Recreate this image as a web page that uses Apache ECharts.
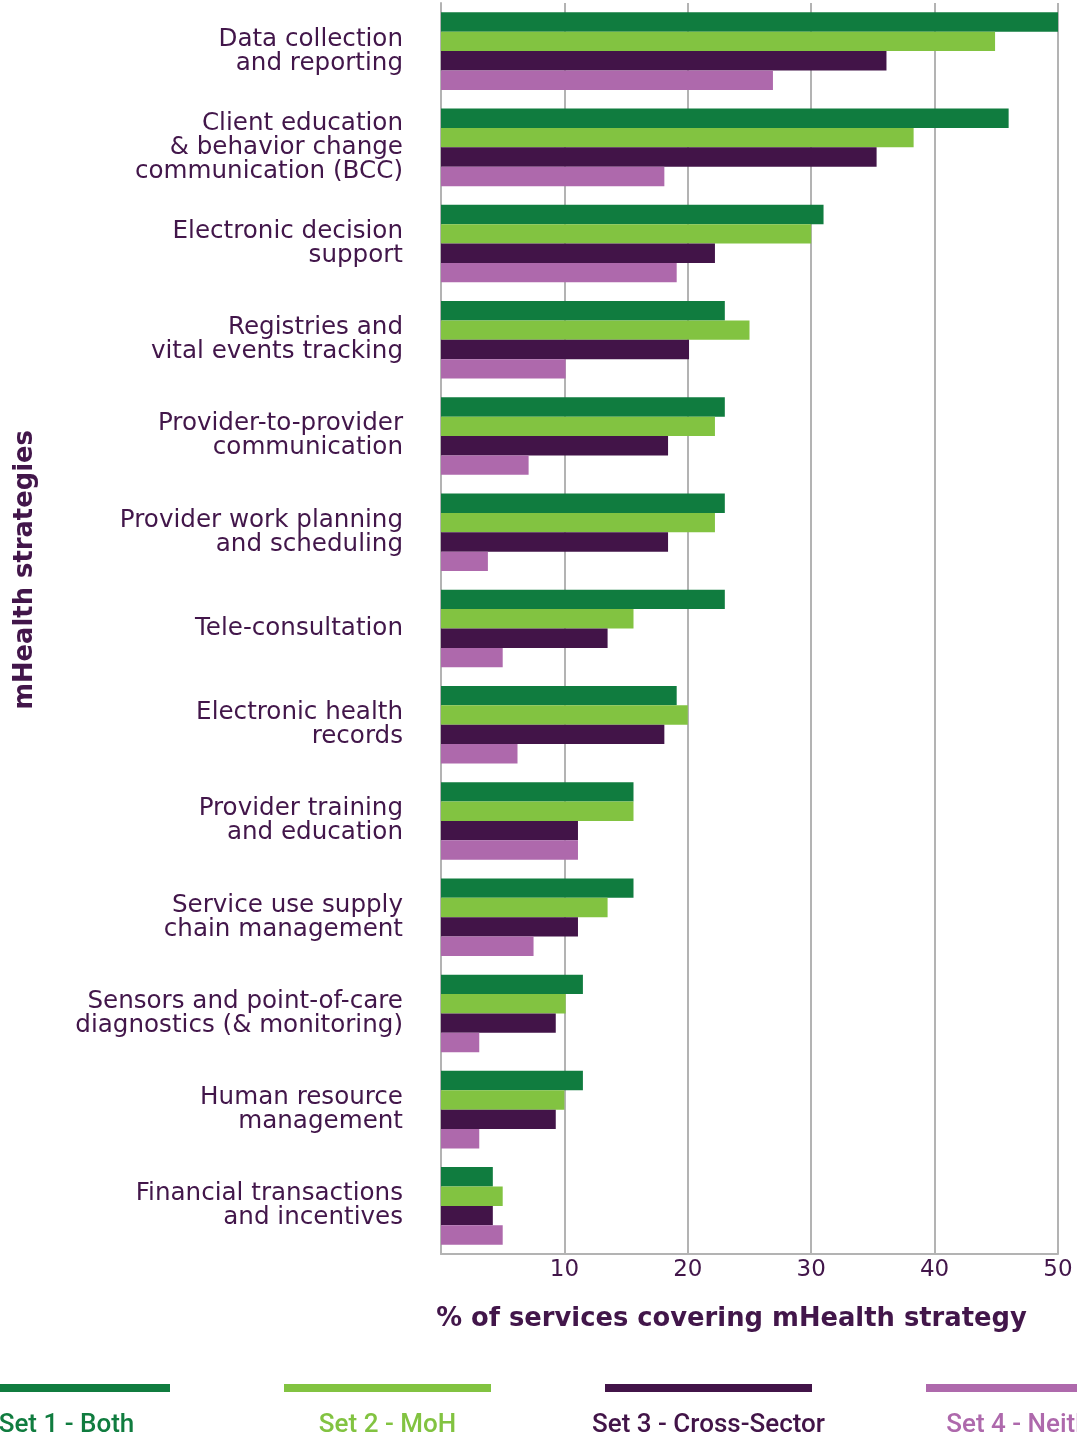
<!DOCTYPE html>
<html><head><meta charset="utf-8">
<script src="https://cdn.jsdelivr.net/npm/echarts@6/dist/echarts.min.js"></script>
<style>html,body{margin:0;padding:0;background:#fff;overflow:hidden}#c{width:1077px;height:1436px}</style>
</head><body><div id="c"></div>
<script>
const categories = [
  'Data collection\nand reporting',
  'Client education\n& behavior change\ncommunication (BCC)',
  'Electronic decision\nsupport',
  'Registries and\nvital events tracking',
  'Provider-to-provider\ncommunication',
  'Provider work planning\nand scheduling',
  'Tele-consultation',
  'Electronic health\nrecords',
  'Provider training\nand education',
  'Service use supply\nchain management',
  'Sensors and point-of-care\ndiagnostics (& monitoring)',
  'Human resource\nmanagement',
  'Financial transactions\nand incentives'
];
const seriesNames = ['Set 1 - Both', 'Set 2 - MoH', 'Set 3 - Cross-Sector', 'Set 4 - Neither'];
const set1 = [50, 46, 31, 23, 23, 23, 23, 19.1, 15.6, 15.6, 11.5, 11.5, 4.2];
const set2 = [44.9, 38.3, 30, 25, 22.2, 22.2, 15.6, 20, 15.6, 13.5, 10.1, 10, 5];
const set3 = [36.1, 35.3, 22.2, 20.1, 18.4, 18.4, 13.5, 18.1, 11.1, 11.1, 9.3, 9.3, 4.2];
const set4 = [26.9, 18.1, 19.1, 10.1, 7.1, 3.8, 5, 6.2, 11.1, 7.5, 3.1, 3.1, 5];
const xTickLabels = ['', '10', '20', '30', '40', '50'];
const yAxisTitle = 'mHealth strategies';
const xAxisTitle = '% of services covering mHealth strategy';

const colors = ['#107c3f', '#82c341', '#421448', '#ae69ac'];
const textColor = '#42164a';
const gridColor = '#b3b3b3';
const seriesData = [set1, set2, set3, set4];
const mainFont = '"DejaVu Sans", sans-serif';

const chart = echarts.init(document.getElementById('c'), null, {renderer: 'canvas'});

const legendGraphics = [];
seriesNames.forEach((name, i) => {
  const x0 = -37 + 321 * i;
  legendGraphics.push({
    type: 'rect', left: x0, top: 1384,
    shape: {width: 207, height: 8},
    style: {fill: colors[i]}
  });
  legendGraphics.push({
    type: 'text', x: x0 + 103.5, y: 1425,
    style: {
      text: name, fill: colors[i],
      font: '500 26px "Liberation Sans Narrow", "Roboto", sans-serif',
      textAlign: 'center', textVerticalAlign: 'middle'
    }
  });
});

chart.setOption({
  animation: false,
  backgroundColor: '#ffffff',
  color: colors,
  grid: {left: 441, right: 19, top: 3, bottom: 182, containLabel: false},
  xAxis: {
    type: 'value', min: 0, max: 50, interval: 10,
    name: xAxisTitle, nameLocation: 'middle', nameGap: 52,
    nameTextStyle: {color: textColor, fontSize: 25.8, fontWeight: 'bold', fontFamily: mainFont, padding: [0, 36, 0, 0]},
    axisLine: {show: true, lineStyle: {color: gridColor, width: 2}},
    axisTick: {show: false},
    splitLine: {show: true, lineStyle: {color: gridColor, width: 2}},
    axisLabel: {
      color: textColor, fontSize: 23, margin: 5, fontFamily: mainFont,
      formatter: v => xTickLabels[Math.round(v / 10)]
    }
  },
  yAxis: {
    type: 'category', data: categories, inverse: true,
    axisLine: {show: true, lineStyle: {color: gridColor, width: 2}},
    axisTick: {show: false},
    splitLine: {show: false},
    axisLabel: {
      color: textColor, fontSize: 24.6, lineHeight: 24, margin: 38,
      fontFamily: mainFont, align: 'right', padding: [6, 0, 0, 0]
    }
  },
  series: seriesNames.map((name, i) => ({
    name: name, type: 'bar', data: seriesData[i],
    barGap: '0%', barCategoryGap: '19.4%',
    itemStyle: {color: colors[i]}
  })),
  graphic: [
    {
      type: 'text', x: 25, y: 570, rotation: Math.PI / 2,
      style: {
        text: yAxisTitle, fill: textColor,
        font: 'bold 25.8px ' + mainFont,
        textAlign: 'center', textVerticalAlign: 'middle'
      }
    }
  ].concat(legendGraphics)
});
</script>
</body></html>
